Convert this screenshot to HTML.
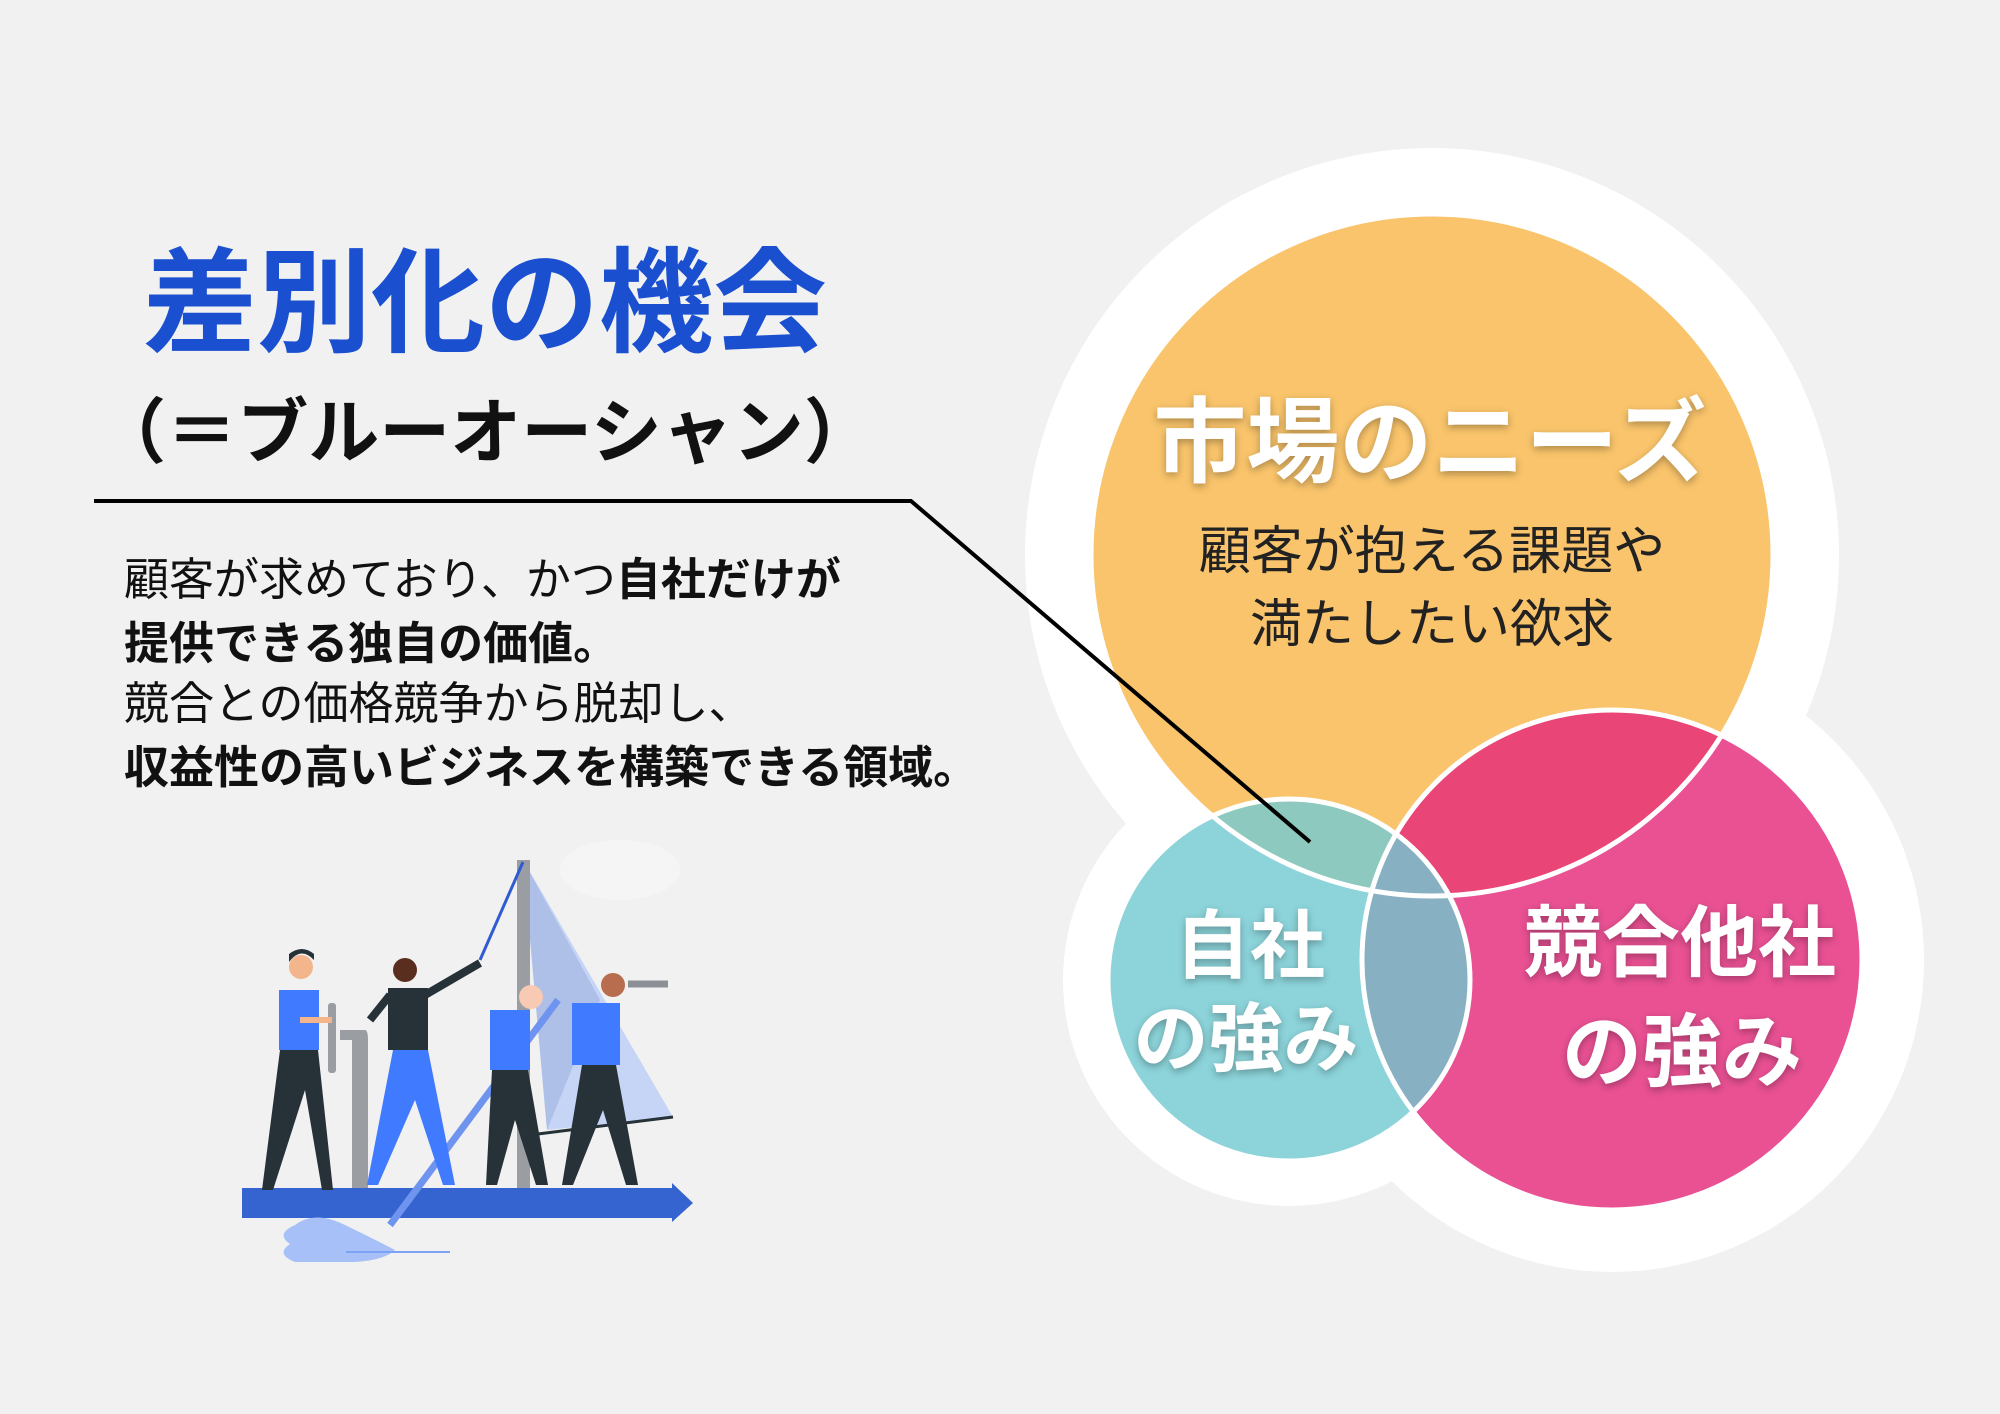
<!DOCTYPE html>
<html><head><meta charset="utf-8"><style>
html,body{margin:0;padding:0}
body{width:2000px;height:1414px;background:#f1f1f1;position:relative;overflow:hidden;font-family:"Liberation Sans","Noto Sans CJK JP",sans-serif}
.t{position:absolute;line-height:1;white-space:nowrap}
.c{transform:translateX(-50%)}
.sh{color:#fff;font-weight:700;text-shadow:0 3px 8px rgba(0,0,0,0.3)}
</style></head><body>
<svg width="2000" height="1414" style="position:absolute;left:0;top:0">
<defs>
<clipPath id="co"><circle cx="1432" cy="555" r="341"/></clipPath>
<clipPath id="ct"><circle cx="1289" cy="980" r="181"/></clipPath>
<clipPath id="cp"><circle cx="1612" cy="960" r="250"/></clipPath>
</defs>
<circle cx="1432" cy="555" r="407" fill="#fff"/>
<circle cx="1289" cy="980" r="226" fill="#fff"/>
<circle cx="1612" cy="960" r="312" fill="#fff"/>
<circle cx="1432" cy="555" r="341" fill="#F9C46B"/>
<circle cx="1612" cy="960" r="250" fill="#E95193"/>
<circle cx="1289" cy="980" r="181" fill="#8CD4DA"/>
<circle cx="1612" cy="960" r="250" fill="#E94577" clip-path="url(#co)"/>
<circle cx="1289" cy="980" r="181" fill="#8DC9BE" clip-path="url(#co)"/>
<circle cx="1289" cy="980" r="181" fill="#88B0C3" clip-path="url(#cp)"/>
<circle cx="1432" cy="555" r="341" fill="none" stroke="#fff" stroke-width="5"/>
<circle cx="1612" cy="960" r="250" fill="none" stroke="#fff" stroke-width="5"/>
<circle cx="1289" cy="980" r="181" fill="none" stroke="#fff" stroke-width="5"/>
<polyline points="94,501 911,501 1310,842" fill="none" stroke="#000" stroke-width="4"/>
<g>
<ellipse cx="620" cy="870" rx="60" ry="30" fill="#f5f5f5"/>
<polygon points="523,860 673,1117 547,1130" fill="#c6d4f5"/>
<polygon points="523,860 600,1000 547,1130" fill="#aebfe8"/>
<line x1="530" y1="1135" x2="673" y2="1117" stroke="#263238" stroke-width="3"/>
<rect x="517" y="860" width="13" height="335" fill="#9a9ea3"/>
<path d="M352,1195 V1040 H340 V1030 H365 Q368,1030 368,1040 V1195 Z" fill="#9a9ea3"/>
<rect x="328" y="1003" width="8" height="70" rx="3" fill="#9a9ea3"/>
<line x1="523" y1="862" x2="480" y2="960" stroke="#2f5bd3" stroke-width="3"/>
<polygon points="242,1188 672,1188 672,1183 693,1203 672,1222 672,1218 242,1218" fill="#3563cf"/>
<path d="M295,1225 q20,-15 50,0 q25,12 50,25 q-10,10 -40,12 h-60 q-20,-8 -5,-18 q-15,-10 5,-19z" fill="#a7c0f7"/>
<line x1="390" y1="1225" x2="558" y2="1000" stroke="#6f94f0" stroke-width="7"/>
<line x1="346" y1="1252" x2="450" y2="1252" stroke="#7ea3f5" stroke-width="2"/>
<circle cx="301" cy="967" r="12" fill="#f2b58c"/><path d="M289,962 q12,-16 25,-2 v-6 q-12,-10 -25,0z" fill="#263238"/>
<rect x="279" y="990" width="40" height="60" fill="#407bff"/>
<polygon points="280,1050 318,1050 333,1190 322,1190 305,1090 273,1190 262,1190" fill="#263238"/>
<line x1="300" y1="1020" x2="332" y2="1020" stroke="#f2b58c" stroke-width="6"/>
<circle cx="405" cy="970" r="12" fill="#5a2e1f"/>
<rect x="388" y="988" width="40" height="62" fill="#263238"/>
<line x1="425" y1="995" x2="480" y2="963" stroke="#263238" stroke-width="8"/>
<line x1="390" y1="995" x2="370" y2="1020" stroke="#263238" stroke-width="8"/>
<polygon points="393,1050 428,1050 455,1185 443,1185 415,1100 378,1185 367,1185" fill="#407bff"/>
<circle cx="531" cy="997" r="12" fill="#f8c9b3"/>
<rect x="490" y="1010" width="40" height="60" fill="#407bff"/>
<polygon points="492,1070 528,1070 548,1185 536,1185 515,1120 497,1185 486,1185" fill="#263238"/>
<circle cx="613" cy="985" r="12" fill="#b86d4e"/>
<rect x="572" y="1003" width="48" height="62" fill="#407bff"/>
<line x1="628" y1="984" x2="668" y2="984" stroke="#8a9096" stroke-width="7"/>
<polygon points="582,1065 616,1065 638,1185 626,1185 603,1110 573,1185 562,1185" fill="#263238"/>
</g>
</svg>
<div class="t c" style="left:485px;top:248px;font-size:114px;font-weight:700;color:#1A4FD0">差別化の機会</div>
<div class="t c" style="left:485px;top:398px;font-size:71px;font-weight:700;color:#111">（＝ブルーオーシャン）</div>
<div class="t" style="left:124px;top:557px;font-size:45px;color:#111">顧客が求めており、かつ<b>自社だけが</b></div>
<div class="t" style="left:124px;top:621px;font-size:45px;color:#111;font-weight:700">提供できる独自の価値。</div>
<div class="t" style="left:124px;top:681px;font-size:45px;color:#111">競合との価格競争から脱却し、</div>
<div class="t" style="left:124px;top:745px;font-size:45px;color:#111;font-weight:700">収益性の高いビジネスを構築できる領域。</div>
<div class="t c sh" style="left:1430px;top:397px;font-size:93px">市場のニーズ</div>
<div class="t c" style="left:1432px;top:526px;font-size:52px;color:#222">顧客が抱える課題や</div>
<div class="t c" style="left:1432px;top:599px;font-size:52px;color:#222">満たしたい欲求</div>
<div class="t c sh" style="left:1250px;top:909px;font-size:75px">自社</div>
<div class="t c sh" style="left:1246px;top:1002px;font-size:75px">の強み</div>
<div class="t c sh" style="left:1680px;top:904px;font-size:78px">競合他社</div>
<div class="t c sh" style="left:1682px;top:1013px;font-size:80px">の強み</div>
</body></html>
